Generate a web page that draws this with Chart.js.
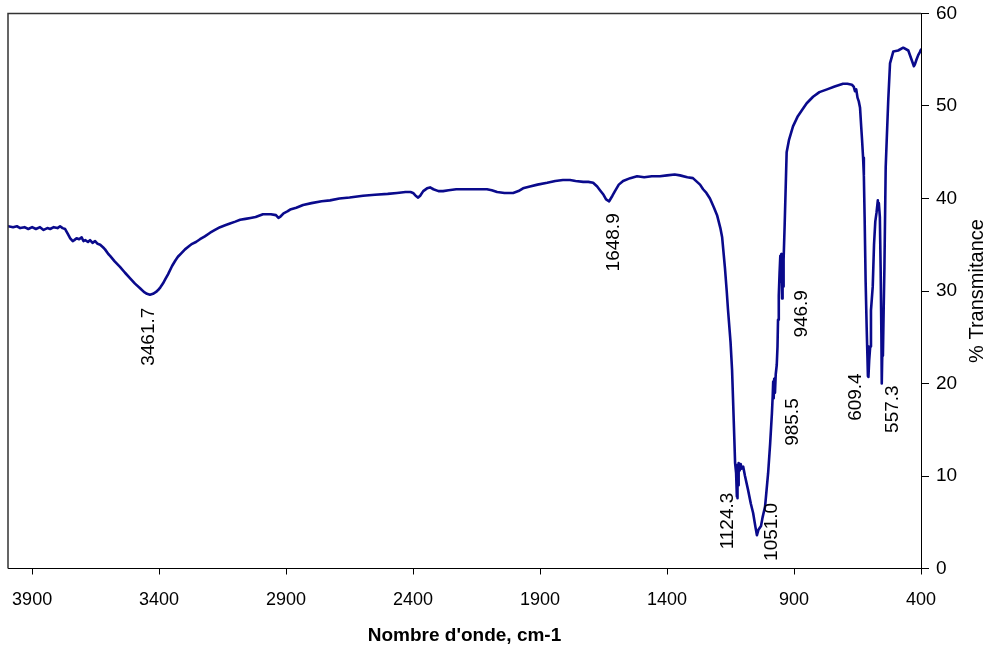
<!DOCTYPE html>
<html><head><meta charset="utf-8">
<script src="https://cdn.jsdelivr.net/npm/chart.js@4/dist/chart.umd.min.js"></script>
<style>html,body{margin:0;padding:0;background:#fff}#wrap{width:987px;height:653px}</style>
</head><body><div id="wrap"><canvas id="c" width="987" height="653"></canvas></div>
<script>
// Wavenumber (cm-1) and % transmittance
const wavenumbers = [
 3995,3975,3960,3947,3930,3915,3900,3885,3869,3855,
 3840,3829,3815,3800,3790,3780,3770,3760,3750,3740,
 3734,3725,3715,3705,3698,3691,3680,3672,3662,3652,
 3642,3632,3620,3613,3600,3593,3575,3554,3535,3515,
 3495,3475,3460,3448,3436,3424,3412,3404,3395,3385,
 3375,3365,3349,3336,3326,3312,3298,3284,3270,3255,
 3239,3220,3199,3180,3160,3140,3121,3100,3081,3060,
 3040,3020,2991,2960,2940,2930,2924,2910,2895,2884,
 2860,2833,2800,2760,2727,2690,2650,2597,2550,2500,
 2463,2430,2410,2400,2390,2380,2372,2360,2345,2333,
 2320,2300,2282,2260,2230,2203,2150,2109,2090,2069,
 2040,2006,1985,1967,1940,1910,1872,1840,1810,1782,
 1760,1730,1710,1691,1675,1664,1650,1640,1628,1615,
 1605,1590,1573,1545,1518,1490,1460,1428,1400,1370,
 1349,1320,1298,1270,1258,1245,1231,1215,1203,1190,
 1183,1172,1165,1160,1150,1144,1140,1135,1132,1128,
 1125,1124,1123,1122,1120,1118,1114,1110,1106,1100,
 1093,1081,1070,1061,1052,1046,1040,1030,1024,1014,
 1008,1002,994,987,984,982,980,978,975,972,
 968,965,963,960,957,954,952,950,948,947,
 945,943,941,937,933,929,920,904,885,865,
 850,825,800,770,740,707,690,672,665,660,
 655,650,645,640,636,632,628,625,622,618,
 614,611,609,608,607,604,600,597,590,585,
 580,575,570,568,566,562,559,556,555,554,
 552,550,547,544,539,535,529,522,509,490,
 470,450,437,428,424,418,411,405,400
];
const transmittance = [
 37.0,36.9,37.0,36.8,36.9,36.7,36.9,36.7,36.9,36.6,
 36.8,36.7,36.9,36.8,37.0,36.8,36.7,36.2,35.7,35.4,
 35.5,35.7,35.6,35.8,35.4,35.5,35.3,35.5,35.2,35.4,
 35.1,35.0,34.7,34.5,34.0,33.8,33.2,32.6,32.0,31.4,
 30.8,30.3,29.9,29.7,29.6,29.7,29.9,30.1,30.4,30.8,
 31.3,31.8,32.7,33.3,33.7,34.1,34.5,34.8,35.1,35.3,
 35.6,35.9,36.3,36.6,36.9,37.1,37.3,37.5,37.7,37.8,
 37.9,38.0,38.3,38.3,38.2,37.9,38.0,38.4,38.6,38.8,
 39.0,39.3,39.5,39.7,39.8,40.0,40.1,40.3,40.4,40.5,
 40.6,40.7,40.7,40.6,40.3,40.1,40.3,40.8,41.1,41.2,
 41.0,40.8,40.8,40.9,41.0,41.0,41.0,41.0,40.9,40.7,
 40.6,40.6,40.8,41.1,41.3,41.5,41.7,41.9,42.0,42.0,
 41.9,41.8,41.8,41.7,41.3,40.9,40.4,39.9,39.7,40.3,
 40.8,41.5,41.9,42.2,42.4,42.3,42.4,42.4,42.5,42.6,
 42.5,42.3,42.2,41.5,41.0,40.6,40.0,39.0,38.2,36.8,
 35.8,32.5,30.0,28.0,24.5,21.5,18.2,14.0,11.4,10.3,
 7.8,10.8,7.6,11.2,9.0,11.4,10.6,11.3,10.8,11.0,
 10.0,8.5,7.0,6.0,4.5,3.6,4.2,4.6,5.5,6.7,
 8.5,10.3,13.5,16.8,18.6,20.2,18.4,20.5,19.0,21.0,
 22.0,24.0,26.9,29.5,31.9,33.8,31.0,34.0,32.0,29.2,
 33.6,30.5,33.4,37.0,41.0,45.0,46.3,47.8,48.9,49.7,
 50.3,51.0,51.5,51.8,52.1,52.4,52.4,52.3,52.1,51.6,
 51.8,50.9,50.5,49.8,48.0,46.3,44.4,42.5,38.0,31.0,
 26.1,23.0,20.8,24.0,20.7,22.5,24.0,27.9,30.5,35.0,
 37.5,38.5,39.8,38.8,39.5,38.0,32.6,25.4,22.0,20.0,
 24.0,23.0,28.0,32.6,43.4,46.3,50.6,54.6,55.9,56.0,
 56.3,56.0,55.0,54.3,54.5,55.0,55.5,55.8,56.1
];
const xTickValues = [3900,3400,2900,2400,1900,1400,900,400];
const yTickValues = [0,10,20,30,40,50,60];
// Peak annotations: text and where each label's top sits (data coords)
const peakLabels  = ['3461.7','1648.9','1124.3','1051.0','985.5','946.9','609.4','557.3'];
const peakLabelWn = [3439,1609,1160,987,904,868,656,510];
const peakLabelT  = [28.2,38.4,8.2,7.1,18.4,30.1,21.1,19.8];
const xTitle = "Nombre d'onde, cm-1";
const yTitle = "% Transmitance";

const FONT = '"Liberation Sans", Arial, sans-serif';

const overlay = {
  id: 'overlay',
  afterDraw(chart) {
    const {ctx, chartArea: a, scales} = chart;
    ctx.save();
    ctx.strokeStyle = '#333';
    ctx.lineWidth = 1.5;
    ctx.beginPath();
    ctx.moveTo(a.left, a.bottom);
    ctx.lineTo(a.left, a.top);
    ctx.lineTo(a.right, a.top);
    ctx.stroke();

    ctx.fillStyle = '#000';
    ctx.font = '19px ' + FONT;
    peakLabels.forEach((t, i) => {
      const x = scales.x.getPixelForValue(peakLabelWn[i]);
      const y = scales.y.getPixelForValue(peakLabelT[i]);
      ctx.save();
      ctx.translate(x, y);
      ctx.rotate(-Math.PI / 2);
      ctx.textAlign = 'right';
      ctx.textBaseline = 'middle';
      ctx.fillText(t, 0, 0);
      ctx.restore();
    });

    ctx.font = 'bold 19px ' + FONT;
    ctx.textAlign = 'center';
    ctx.textBaseline = 'middle';
    ctx.fillText(xTitle, (a.left + a.right) / 2, 636);

    ctx.save();
    ctx.font = '20px ' + FONT;
    ctx.translate(977, (a.top + a.bottom) / 2);
    ctx.rotate(-Math.PI / 2);
    ctx.fillText(yTitle, 0, 0);
    ctx.restore();
    ctx.restore();
  }
};

new Chart(document.getElementById('c'), {
  type: 'line',
  data: {
    datasets: [{
      data: wavenumbers.map((w, i) => ({x: w, y: transmittance[i]})),
      borderColor: '#0a0a8c',
      borderWidth: 2.6,
      borderJoinStyle: 'round',
      borderCapStyle: 'round',
      pointRadius: 0,
      tension: 0,
      fill: false
    }]
  },
  options: {
    responsive: false,
    animation: false,
    devicePixelRatio: 1,
    layout: {padding: {left: 8, top: 13.5, right: 0, bottom: 0}},
    plugins: {legend: {display: false}, tooltip: {enabled: false}},
    scales: {
      x: {
        type: 'linear', reverse: true, min: 400, max: 3995, position: 'bottom',
        afterBuildTicks: s => { s.ticks = xTickValues.map(v => ({value: v})); },
        afterFit: s => { s.height = 84.5; s.paddingLeft = 0; s.paddingRight = 0; },
        grid: {display: true, drawOnChartArea: false, drawTicks: true, tickLength: 6, color: '#000', lineWidth: 1},
        border: {display: true, color: '#000', width: 1},
        ticks: {color: '#000', font: {family: FONT, size: 18}, padding: 15, maxRotation: 0, autoSkip: false,
                callback: v => String(v)}
      },
      y: {
        type: 'linear', position: 'right', min: 0, max: 60,
        afterBuildTicks: s => { s.ticks = yTickValues.map(v => ({value: v})); },
        afterFit: s => { s.width = 66; s.paddingTop = 0; s.paddingBottom = 0; },
        grid: {display: true, drawOnChartArea: false, drawTicks: true, tickLength: 8, color: '#000', lineWidth: 1},
        border: {display: true, color: '#000', width: 1},
        ticks: {color: '#000', font: {family: FONT, size: 19}, padding: 7, autoSkip: false,
                callback: v => String(v)}
      }
    }
  },
  plugins: [overlay]
});
</script>
</body></html>
